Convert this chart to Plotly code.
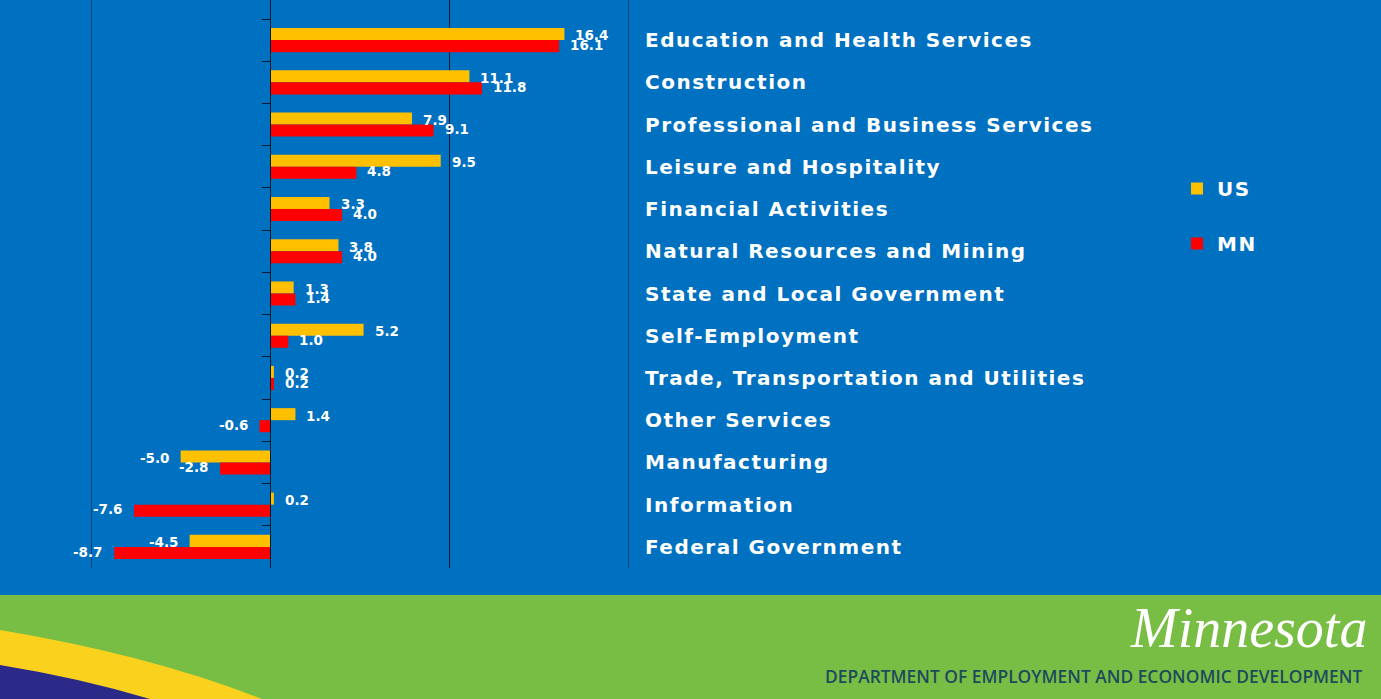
import plotly.graph_objects as go

# Employment change by industry, US vs MN (percent)
categories = [
    "Education and Health Services",
    "Construction",
    "Professional and Business Services",
    "Leisure and Hospitality",
    "Financial Activities",
    "Natural Resources and Mining",
    "State and Local Government",
    "Self-Employment",
    "Trade, Transportation and Utilities",
    "Other Services",
    "Manufacturing",
    "Information",
    "Federal Government",
]
us_values = [16.4, 11.1, 7.9, 9.5, 3.3, 3.8, 1.3, 5.2, 0.2, 1.4, -5.0, 0.2, -4.5]
mn_values = [16.1, 11.8, 9.1, 4.8, 4.0, 4.0, 1.4, 1.0, 0.2, -0.6, -2.8, -7.6, -8.7]
series_names = ["US", "MN"]
x_ticks = [-10, 0, 10, 20]

BLUE = "#0070C0"
GOLD = "#FFC000"
RED = "#FF0000"
GRID = "#0E1A2C"
GREEN = "#78BE44"
W, H = 1381, 699
L, R, T, B = 91, 752, 0, 131
PW, PH = W - L - R, H - T - B
BOLD = "DejaVu Sans"


def px(xp):
    return (xp - L) / PW


def py(yp):
    return (H - B - yp) / PH


fig = go.Figure()
for name, vals, col in [(series_names[0], us_values, GOLD), (series_names[1], mn_values, RED)]:
    fig.add_trace(go.Bar(
        y=categories, x=vals, name=name, orientation="h",
        marker=dict(color=col, line=dict(width=0)),
        legendgroup=name,
    ))

annotations = []
# value labels next to bar ends
bar_off = 0.11
for i, cat in enumerate(categories):
    for vals, off in [(us_values, -bar_off), (mn_values, bar_off)]:
        v = vals[i]
        pos = v >= 0
        annotations.append(dict(
            x=v, y=i + off, xref="x", yref="y", text=f"{v:.1f}",
            showarrow=False, xanchor="left" if pos else "right",
            align="left" if pos else "right",
            xshift=9 if pos else -9,
            font=dict(family=BOLD, size=13.5, color="white", weight="bold"),
        ))
    # category names to the right of the plot
    annotations.append(dict(
        x=1.0, y=cat, xref="paper", yref="y", text=cat, showarrow=False,
        xanchor="left", align="left", xshift=14,
        font=dict(family=BOLD, size=20, color="white", weight="bold"),
    ))

# footer text
annotations.append(dict(
    x=px(1248), y=py(628), xref="paper", yref="paper", text="<i>Minnesota</i>",
    showarrow=False, xanchor="center", yanchor="middle",
    font=dict(family="Liberation Serif", size=56, color="white", style="italic"),
))
annotations.append(dict(
    x=px(1093), y=py(676), xref="paper", yref="paper",
    text="DEPARTMENT OF EMPLOYMENT AND ECONOMIC DEVELOPMENT",
    showarrow=False, xanchor="center", yanchor="middle",
    font=dict(family="Open Sans", size=17.4, color="#1E4B5C", weight=600),
))

shapes = [
    # green footer band
    dict(type="rect", xref="paper", yref="paper",
         x0=px(0), x1=px(W), y0=py(H), y1=py(595),
         fillcolor=GREEN, line=dict(width=0), layer="above"),
    # gold swoosh
    dict(type="path", xref="paper", yref="paper",
         path=(f"M {px(0)},{py(630)} Q {px(150)},{py(655)} {px(262)},{py(699)} "
               f"L {px(0)},{py(699)} Z"),
         fillcolor="#FAD21E", line=dict(width=0), layer="above"),
    # indigo corner
    dict(type="path", xref="paper", yref="paper",
         path=(f"M {px(0)},{py(665)} Q {px(80)},{py(678)} {px(150)},{py(699)} "
               f"L {px(0)},{py(699)} Z"),
         fillcolor="#2B2A88", line=dict(width=0), layer="above"),
]
# vertical gridlines at the outer ticks (edges of the value range)
for t in (x_ticks[0], x_ticks[-1]):
    shapes.append(dict(type="line", xref="x", yref="paper", x0=t, x1=t, y0=0, y1=1,
                       line=dict(color=GRID, width=1), layer="below"))

fig.update_layout(
    width=W, height=H,
    margin=dict(l=L, r=R, t=T, b=B, pad=0),
    paper_bgcolor=BLUE, plot_bgcolor=BLUE,
    barmode="group", bargap=0.43, bargroupgap=0,
    showlegend=True,
    legend=dict(
        xref="container", yref="container",
        x=1177 / W, y=1 - 169 / H, xanchor="left", yanchor="top",
        bgcolor="rgba(0,0,0,0)", borderwidth=0,
        traceorder="grouped", tracegroupgap=26,
        font=dict(family=BOLD, size=20, color="white", weight="bold"),
    ),
    xaxis=dict(
        range=[x_ticks[0], x_ticks[-1]], tickvals=x_ticks,
        showgrid=True, gridcolor=GRID, gridwidth=1,
        showticklabels=False, zeroline=False, showline=False, ticks="",
    ),
    yaxis=dict(
        type="category", categoryorder="array", categoryarray=categories,
        range=[len(categories) - 0.5, -0.95],
        anchor="free", position=(0 - x_ticks[0]) / (x_ticks[-1] - x_ticks[0]),
        showline=True, linecolor=GRID, linewidth=1,
        ticks="outside", ticklen=8, tickcolor=GRID, tickwidth=1,
        tickson="boundaries", showticklabels=False, showgrid=False, zeroline=False,
    ),
    annotations=annotations,
    shapes=shapes,
)

# slight tracking on the bold labels
post = """
var st = document.createElement('style');
st.textContent = 'text[style*="font-size: 20px"]{letter-spacing:1.5px;}';
document.head.appendChild(st);
"""
fig.write_html("out.html", post_script=post)
